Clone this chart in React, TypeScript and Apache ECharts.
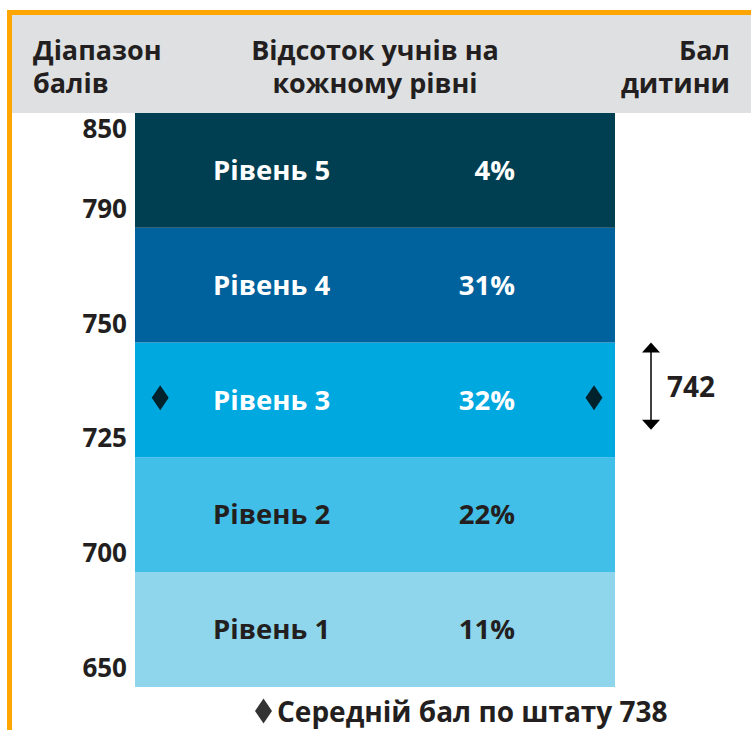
import React, { useEffect, useRef } from "react";
import * as echarts from "echarts";

const levels = ["Рівень 1", "Рівень 2", "Рівень 3", "Рівень 4", "Рівень 5"];
const percents = [11, 22, 32, 31, 4];
const scoreBoundaries = [650, 700, 725, 750, 790, 850];
const levelColors = ["#8fd5ec", "#41bfe8", "#00a8e0", "#00629c", "#003f52"];
const levelTextColors = ["#231f20", "#231f20", "#ffffff", "#ffffff", "#ffffff"];
const stateAverage = 738;
const childScore = 742;
const childRange = [731, 750];

const headerLeft = ["Діапазон", "балів"];
const headerMid = ["Відсоток учнів на", "кожному рівні"];
const headerRight = ["Бал", "дитини"];
const legendLabel = `Середній бал по штату ${stateAverage}`;

const FONT = '"Open Sans", "Noto Sans", sans-serif';
const DARK = "#231f20";
const ORANGE = "#ffa500";

function scoreToBand(s: number): number {
  for (let i = 0; i < scoreBoundaries.length - 1; i++) {
    const a = scoreBoundaries[i];
    const b = scoreBoundaries[i + 1];
    if (s >= a && s <= b) return i + (s - a) / (b - a);
  }
  return 0;
}

function headerTexts(lines: string[], x: number, align: string) {
  const ys = [49, 82];
  return lines.map((t, k) => ({
    type: "text",
    x,
    y: ys[k],
    style: { text: t, font: `bold 27px ${FONT}`, fill: DARK, align, verticalAlign: "middle" },
  }));
}

export default function App() {
  const ref = useRef<HTMLDivElement>(null);
  useEffect(() => {
    document.body.style.margin = "0";
    const chart = echarts.init(ref.current!, null, { renderer: "svg" });
    const BAR_END = 80;
    const option: any = {
      animation: false,
      backgroundColor: "#ffffff",
      grid: { left: 135, right: 16, top: 113, bottom: 43 },
      xAxis: { type: "value", min: 0, max: 100, show: false },
      yAxis: {
        type: "value",
        min: 0,
        max: 5,
        interval: 1,
        axisLine: { show: false },
        axisTick: { show: false },
        splitLine: { show: false },
        axisLabel: {
          margin: 8,
          formatter: (v: number) => `{${v === 5 ? "t" : "n"}|${scoreBoundaries[v]}}`,
          rich: {
            n: { fontFamily: FONT, fontWeight: "bold", fontSize: 26, color: DARK, padding: [0, 0, 40, 0] },
            t: { fontFamily: FONT, fontWeight: "bold", fontSize: 26, color: DARK, padding: [30, 0, 0, 0] },
          },
        },
      },
      legend: {
        data: [{ name: legendLabel, icon: "diamond" }],
        left: 250,
        top: 692,
        itemWidth: 17,
        itemHeight: 25,
        itemGap: 6,
        textStyle: { fontFamily: FONT, fontWeight: "bold", fontSize: 28, color: DARK },
        selectedMode: false,
      },
      graphic: [
        { type: "rect", shape: { x: 12, y: 15, width: 739, height: 98 }, style: { fill: "#dfe0e2" } },
        { type: "rect", shape: { x: 7, y: 10, width: 744, height: 5 }, style: { fill: ORANGE } },
        { type: "rect", shape: { x: 7, y: 10, width: 5, height: 720 }, style: { fill: ORANGE } },
        ...headerTexts(headerLeft, 33, "left"),
        ...headerTexts(headerMid, 375, "center"),
        ...headerTexts(headerRight, 730, "right"),
      ],
      series: [
        {
          type: "custom",
          data: levels.map((_, i) => [i, percents[i]]),
          renderItem: (params: any, api: any) => {
            const i = api.value(0);
            const p0 = api.coord([0, i + 1]);
            const p1 = api.coord([BAR_END, i]);
            const cy = (p0[1] + p1[1]) / 2;
            return {
              type: "group",
              children: [
                {
                  type: "rect",
                  shape: { x: p0[0], y: p0[1], width: p1[0] - p0[0], height: p1[1] - p0[1] },
                  style: { fill: levelColors[i] },
                },
                {
                  type: "text", x: p0[0] + 78, y: cy - 1,
                  style: { text: levels[i], font: `bold 27.5px ${FONT}`, fill: levelTextColors[i], align: "left", verticalAlign: "middle" },
                },
                {
                  type: "text", x: p0[0] + 380, y: cy - 1,
                  style: { text: `${api.value(1)}%`, font: `bold 27.5px ${FONT}`, fill: levelTextColors[i], align: "right", verticalAlign: "middle" },
                },
              ],
            };
          },
          z: 1,
        },
        {
          type: "scatter",
          name: legendLabel,
          symbol: "diamond",
          symbolSize: [17, 25],
          itemStyle: { color: "#000000" },
          data: [
            [4.2, scoreToBand(stateAverage)],
            [76.5, scoreToBand(stateAverage)],
          ],
          z: 5,
        },
        {
          type: "custom",
          data: [[86, scoreToBand(childRange[0]), scoreToBand(childRange[1]), childScore]],
          renderItem: (params: any, api: any) => {
            const top = api.coord([api.value(0), api.value(2)]);
            const bot = api.coord([api.value(0), api.value(1)]);
            const x = top[0];
            const hw = 9, hh = 10;
            return {
              type: "group",
              children: [
                { type: "line", shape: { x1: x, y1: top[1] + hh - 1, x2: x, y2: bot[1] - hh + 1 }, style: { stroke: "#000", lineWidth: 1.5 } },
                { type: "polygon", shape: { points: [[x, top[1]], [x - hw, top[1] + hh], [x + hw, top[1] + hh]] }, style: { fill: "#000" } },
                { type: "polygon", shape: { points: [[x, bot[1]], [x - hw, bot[1] - hh], [x + hw, bot[1] - hh]] }, style: { fill: "#000" } },
                {
                  type: "text", x: x + 16, y: (top[1] + bot[1]) / 2,
                  style: { text: String(api.value(3)), font: `bold 28px ${FONT}`, fill: DARK, align: "left", verticalAlign: "middle" },
                },
              ],
            };
          },
          z: 5,
        },
      ],
    };
    chart.setOption(option);
    return () => chart.dispose();
  }, []);
  return <div ref={ref} style={{ width: 751, height: 730 }} />;
}
